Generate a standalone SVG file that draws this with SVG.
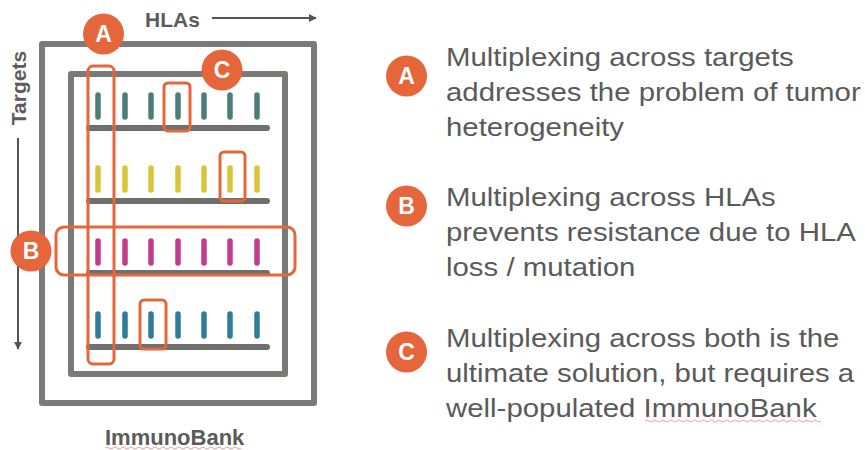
<svg xmlns="http://www.w3.org/2000/svg" width="865" height="450" viewBox="0 0 865 450">
  <style>
    .frame { fill: none; stroke: #7a7b78; stroke-width: 6; stroke-linejoin: round; }
    .base { stroke: #6f706d; stroke-width: 6; stroke-linecap: round; }
    .tick { stroke-width: 5.5; stroke-linecap: round; }
    .teal { stroke: #4b7d79; }
    .yellow { stroke: #d8c53a; }
    .magenta { stroke: #c23b8c; }
    .blue { stroke: #2f7c98; }
    .hl { fill: none; stroke: #e5663a; stroke-width: 3; }
    .badge circle { fill: #e5663a; }
    .badge text { fill: #ffffff; font-family: "Liberation Sans", Arial, sans-serif; font-weight: bold; font-size: 23px; text-anchor: middle; }
    .axis { fill: #5b5b5b; font-family: "Liberation Sans", Arial, sans-serif; font-weight: bold; }
    .axisline { stroke: #555555; stroke-width: 2; fill: none; }
    .desc { fill: #5a5a5a; font-family: "Liberation Sans", Arial, sans-serif; font-size: 26px; }
    .squiggle { fill: none; stroke: #e7868c; stroke-width: 1; opacity: 0.8; }
  </style>
  <defs>
    <marker id="arrow" viewBox="0 0 10 10" refX="9" refY="5" markerWidth="8" markerHeight="8" markerUnits="userSpaceOnUse" orient="auto">
      <path d="M0,0 L10,5 L0,10 z" fill="#555555"/>
    </marker>
    <g id="tickrow">
      <line x1="98" y1="0" x2="98" y2="22"/>
      <line x1="125" y1="0" x2="125" y2="22"/>
      <line x1="151" y1="0" x2="151" y2="22"/>
      <line x1="178" y1="0" x2="178" y2="22"/>
      <line x1="204" y1="0" x2="204" y2="22"/>
      <line x1="230" y1="0" x2="230" y2="22"/>
      <line x1="257" y1="0" x2="257" y2="22"/>
    </g>
  </defs>

  <!-- axis labels -->
  <g id="hlas-axis">
    <text class="axis" x="145" y="27" font-size="21">HLAs</text>
    <line class="axisline" x1="212" y1="18" x2="316" y2="18" marker-end="url(#arrow)"/>
  </g>
  <g id="targets-axis">
    <text class="axis" font-size="21" text-anchor="middle" transform="translate(26,88) rotate(-90)">Targets</text>
    <line class="axisline" x1="18" y1="138" x2="18" y2="349" marker-end="url(#arrow)"/>
  </g>

  <!-- ImmunoBank frames -->
  <g id="immunobank">
    <rect class="frame" x="42" y="44" width="272" height="359"/>
    <rect class="frame" x="71" y="74" width="214" height="300"/>
    <text class="axis" x="105" y="445" font-size="22">ImmunoBank</text>
    <path class="squiggle" d="M105,448 q2,-2 4,0 t4,0 t4,0 t4,0 t4,0 t4,0 t4,0 t4,0 t4,0 t4,0 t4,0 t4,0 t4,0 t4,0 t4,0 t4,0 t4,0 t4,0 t4,0 t4,0 t4,0 t4,0 t4,0 t4,0 t4,0 t4,0 t4,0 t4,0 t4,0 t4,0 t4,0 t4,0 t4,0 t4,0"/>
  </g>

  <!-- target rows -->
  <g id="row-1">
    <use href="#tickrow" class="tick teal" transform="translate(0,95)"/>
    <line class="base" x1="89" y1="128" x2="267" y2="128"/>
  </g>
  <g id="row-2">
    <use href="#tickrow" class="tick yellow" transform="translate(0,168)"/>
    <line class="base" x1="89" y1="201" x2="267" y2="201"/>
  </g>
  <g id="row-3">
    <use href="#tickrow" class="tick magenta" transform="translate(0,241)"/>
    <line class="base" x1="89" y1="273" x2="267" y2="273"/>
  </g>
  <g id="row-4">
    <use href="#tickrow" class="tick blue" transform="translate(0,314)"/>
    <line class="base" x1="89" y1="347" x2="267" y2="347"/>
  </g>

  <!-- highlight boxes -->
  <g id="highlights">
    <rect class="hl" x="88" y="66" width="26" height="298" rx="5"/>
    <rect class="hl" x="56" y="227" width="239" height="48" rx="8"/>
    <rect class="hl" x="164" y="83" width="26" height="48" rx="4"/>
    <rect class="hl" x="220" y="152" width="25" height="49" rx="4"/>
    <rect class="hl" x="140" y="300" width="26" height="49" rx="4"/>
  </g>

  <!-- badges on the diagram -->
  <g id="badge-a" class="badge">
    <circle cx="103.5" cy="34" r="20.5"/>
    <text x="103.5" y="42">A</text>
  </g>
  <g id="badge-c" class="badge">
    <circle cx="222" cy="70" r="20.5"/>
    <text x="222" y="78">C</text>
  </g>
  <g id="badge-b" class="badge">
    <circle cx="31" cy="251" r="20.5"/>
    <text x="31" y="259">B</text>
  </g>

  <!-- legend -->
  <g id="legend-a">
    <g class="badge">
      <circle cx="406.5" cy="76" r="20.5"/>
      <text x="406.5" y="84">A</text>
    </g>
    <g transform="translate(446,0) scale(1.13,1)">
      <text class="desc" x="0" y="66">Multiplexing across targets</text>
      <text class="desc" x="0" y="101">addresses the problem of tumor</text>
      <text class="desc" x="0" y="136">heterogeneity</text>
    </g>
  </g>
  <g id="legend-b">
    <g class="badge">
      <circle cx="406.5" cy="206" r="20.5"/>
      <text x="406.5" y="214">B</text>
    </g>
    <g transform="translate(446,0) scale(1.13,1)">
      <text class="desc" x="0" y="206">Multiplexing across HLAs</text>
      <text class="desc" x="0" y="241">prevents resistance due to HLA</text>
      <text class="desc" x="0" y="276">loss / mutation</text>
    </g>
  </g>
  <g id="legend-c">
    <g class="badge">
      <circle cx="406.5" cy="352" r="20.5"/>
      <text x="406.5" y="360">C</text>
    </g>
    <g transform="translate(446,0) scale(1.13,1)">
      <text class="desc" x="0" y="347">Multiplexing across both is the</text>
      <text class="desc" x="0" y="382">ultimate solution, but requires a</text>
      <text class="desc" x="0" y="417">well-populated ImmunoBank</text>
    </g>
    <path class="squiggle" d="M645,421 q2,-2 4,0 t4,0 t4,0 t4,0 t4,0 t4,0 t4,0 t4,0 t4,0 t4,0 t4,0 t4,0 t4,0 t4,0 t4,0 t4,0 t4,0 t4,0 t4,0 t4,0 t4,0 t4,0 t4,0 t4,0 t4,0 t4,0 t4,0 t4,0 t4,0 t4,0 t4,0 t4,0 t4,0 t4,0 t4,0 t4,0 t4,0 t4,0 t4,0 t4,0 t4,0 t4,0 t4,0 t4,0"/>
  </g>
</svg>
